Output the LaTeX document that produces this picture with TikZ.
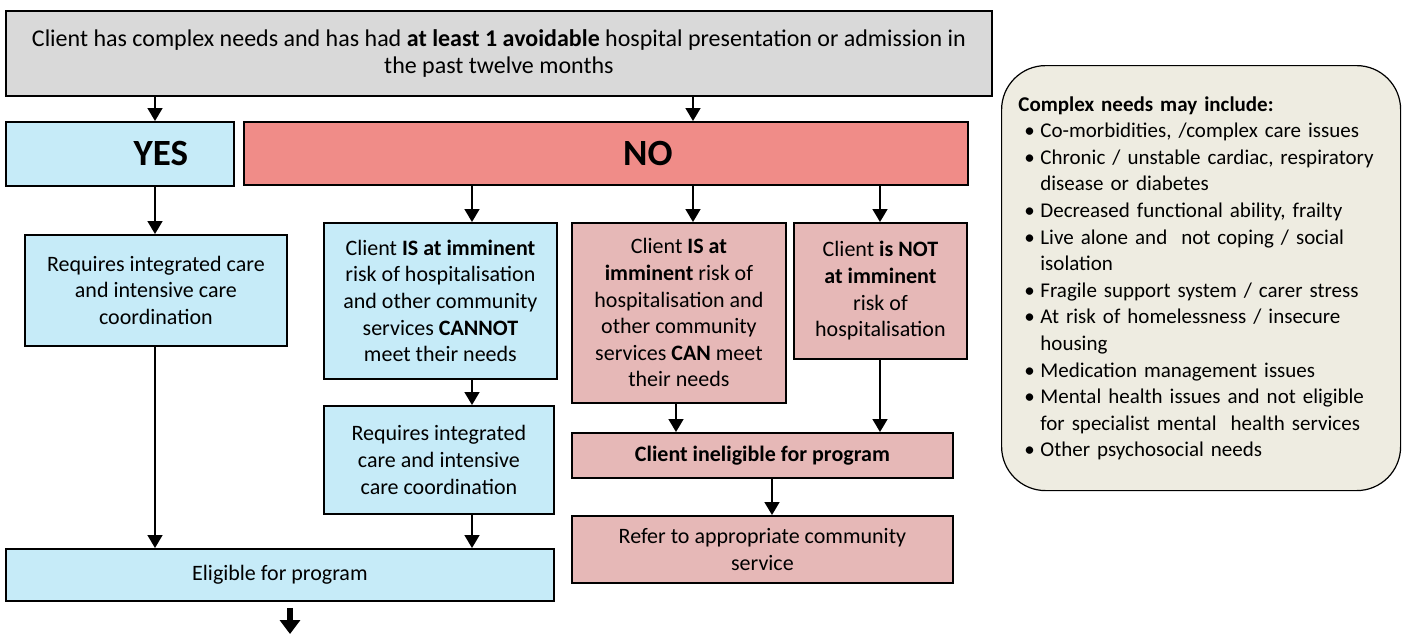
\documentclass[tikz,border=0pt]{standalone}
\usepackage{fontspec}
\setmainfont{Carlito}
\usepackage{xcolor}
\usetikzlibrary{arrows.meta,positioning,calc}
\definecolor{topgray}{HTML}{D9D9D9}
\definecolor{yesblue}{HTML}{C6EBF8}
\definecolor{nored}{HTML}{F08C88}
\definecolor{nopink}{HTML}{E6B8B7}
\definecolor{notetan}{HTML}{EEECE1}
\newcommand{\needitem}[1]{\par\noindent\hangindent=11pt\hangafter=1\hbox to 11pt{\hskip3pt\textbullet\hfil}#1}
\tikzset{%
  flowbox/.style={draw, line width=0.9pt, align=center, inner sep=0pt, anchor=north west,
    font=\fontsize{11}{13.3}\selectfont},
  yesbox/.style={flowbox, fill=yesblue},
  nobox/.style={flowbox, fill=nopink},
  bigword/.style={font=\fontsize{18.5}{20}\selectfont\bfseries},
  flowarrow/.style={line width=0.8pt, -{Triangle[length=6.5pt,width=7.5pt]}},
  outarrow/.style={line width=3pt, -{Triangle[length=7pt,width=10pt]}}
}
\begin{document}
\begin{tikzpicture}[x=0.5pt,y=-0.5pt]
\useasboundingbox (0,0) rectangle (1402,634);
% columns of the connectors
\coordinate (colYes) at (155,0);
\coordinate (colNo) at (693,0);
\coordinate (colA) at (472,0);
\coordinate (colB) at (676,0);
\coordinate (colC) at (880,0);
\coordinate (colD) at (772,0);

\node[flowbox, fill=topgray, minimum width=493pt, minimum height=42.5pt,
  font=\fontsize{12}{13.5}\selectfont] (top) at (5,10)
  {Client has complex needs and has had \textbf{at least 1 avoidable} hospital presentation or admission in\\the past twelve months};

\node[yesbox, bigword, minimum width=114pt, minimum height=32pt] (yes) at (5,121) {\hspace*{41pt}YES};
\node[flowbox, bigword, fill=nored, minimum width=362pt, minimum height=31.5pt] (no) at (243,121) {\hspace*{42pt}NO};

\node[yesbox, minimum width=131pt, minimum height=55.5pt] (reqA) at (24,234)
  {Requires integrated care\\and intensive care\\coordination};
\node[yesbox, minimum width=116.5pt, minimum height=78pt] (riskA) at (323,222)
  {Client \textbf{IS at imminent}\\risk of hospitalisation\\and other community\\services \textbf{CANNOT}\\meet their needs};
\node[nobox, minimum width=107pt, minimum height=90pt] (riskB) at (571,222)
  {Client \textbf{IS at}\\\textbf{imminent} risk of\\hospitalisation and\\other community\\services \textbf{CAN} meet\\their needs};
\node[nobox, minimum width=86.5pt, minimum height=68pt] (riskC) at (793,222)
  {Client \textbf{is NOT}\\\textbf{at imminent}\\risk of\\hospitalisation};
\node[yesbox, minimum width=115pt, minimum height=54pt] (reqB) at (323,405)
  {Requires integrated\\care and intensive\\care coordination};
\node[nobox, minimum width=190.5pt, minimum height=22.5pt] (inel) at (571,432)
  {\textbf{Client ineligible for program}};
\node[nobox, minimum width=190.5pt, minimum height=33.5pt] (refer) at (571,515)
  {Refer to appropriate community\\service};
\node[yesbox, minimum width=274pt, minimum height=26pt] (elig) at (5,548)
  {Eligible for program};

\node[draw, line width=0.6pt, fill=notetan, rounded corners=22pt, anchor=north west,
  minimum width=199.5pt, minimum height=212.5pt] (note) at (1001,65) {};
\node[anchor=north west, inner sep=0pt, text width=182pt, align=left,
  font=\fontsize{10.5}{13.3}\selectfont] (noteText) at (1018,96)
  {\hyphenpenalty=10000\exhyphenpenalty=10000
   \textbf{Complex needs may include:}
   \needitem{Co-morbidities, /complex care issues}
   \needitem{Chronic / unstable cardiac, respiratory disease or diabetes}
   \needitem{Decreased functional ability, frailty}
   \needitem{Live alone and \ not coping / social isolation}
   \needitem{Fragile support system / carer stress}
   \needitem{At risk of homelessness / insecure housing}
   \needitem{Medication management issues}
   \needitem{Mental health issues and not eligible for specialist mental \ health services}
   \needitem{Other psychosocial needs}};

\draw[flowarrow] (top.south -| colYes) -- (yes.north -| colYes);
\draw[flowarrow] (top.south -| colNo) -- (no.north -| colNo);
\draw[flowarrow] (yes.south -| colYes) -- (reqA.north -| colYes);
\draw[flowarrow] (reqA.south -| colYes) -- (elig.north -| colYes);
\draw[flowarrow] (no.south -| colA) -- (riskA.north -| colA);
\draw[flowarrow] (no.south -| colNo) -- (riskB.north -| colNo);
\draw[flowarrow] (no.south -| colC) -- (riskC.north -| colC);
\draw[flowarrow] (riskA.south -| colA) -- (reqB.north -| colA);
\draw[flowarrow] (reqB.south -| colA) -- (elig.north -| colA);
\draw[flowarrow] (riskB.south -| colB) -- (inel.north -| colB);
\draw[flowarrow] (riskC.south -| colC) -- (inel.north -| colC);
\draw[flowarrow] (inel.south -| colD) -- (refer.north -| colD);

\coordinate (outEnd) at (290,634);
\draw[outarrow] ($(elig.south -| outEnd)+(0,-3pt)$) -- (outEnd);
\end{tikzpicture}
\end{document}
